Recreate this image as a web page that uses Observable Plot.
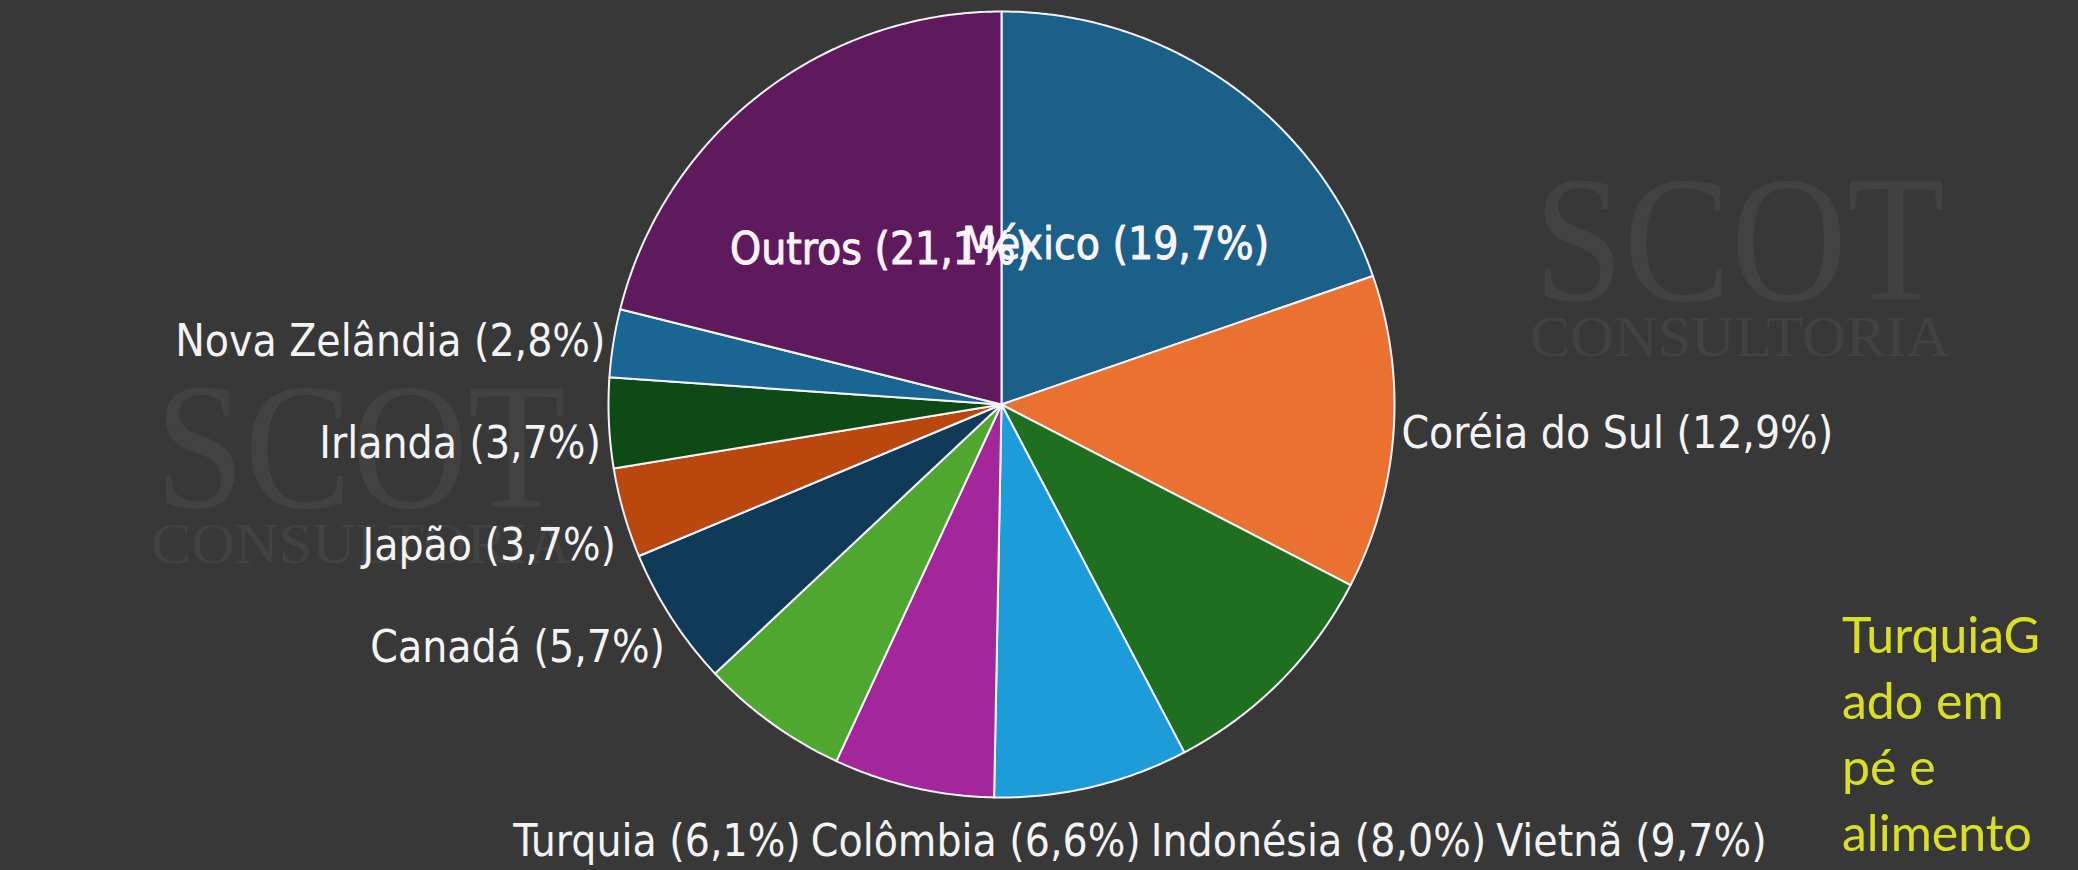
<!DOCTYPE html>
<html>
<head>
<meta charset="utf-8">
<script src="https://cdn.jsdelivr.net/npm/d3@7"></script>
<script src="https://cdn.jsdelivr.net/npm/@observablehq/plot@0.6"></script>
<style>
  html, body { margin: 0; padding: 0; background: #383838; overflow: hidden; }
  #wrap { position: relative; width: 2078px; height: 870px; }
  #wm, #chart, #note { position: absolute; left: 0; top: 0; }
</style>
</head>
<body>
<div id="wrap">
  <svg id="wm" width="2078" height="870"></svg>
  <div id="chart"></div>
  <svg id="note" width="2078" height="870"></svg>
</div>
<script>
// ---- data ----
const countries = ["México", "Coréia do Sul", "Vietnã", "Indonésia", "Colômbia", "Turquia",
                   "Canadá", "Japão", "Irlanda", "Nova Zelândia", "Outros"];
const shares = [19.7, 12.9, 9.7, 8.0, 6.6, 6.1, 5.7, 3.7, 3.7, 2.8, 21.1];
const sliceColors = ["#1b6088", "#ea7130", "#1f6f21", "#1c9dda", "#a3279b", "#4fa72f",
                     "#0f3a58", "#b9470e", "#0d4a15", "#1a6692", "#5f1a5e"];
const noteLines = ["TurquiaG", "ado em", "pé e", "alimento"];
const watermarkWords = ["SCOT", "CONSULTORIA"];

// ---- layout ----
const W = 2078, H = 870;
const cx = 1001, cy = 404, R = 393;
const labelFont = '"DejaVu Sans Condensed", "DejaVu Sans"';
const labelSize = 44;
const insideMin = 15, insideRadius = 0.5;
const labelGap = 8, bottomGap = -50, colSpacing = 102, rowGap = 10;
const bottomFrom = 120, bottomTo = 230;

const rows = countries.map((name, i) => ({name, share: shares[i]}));
const arcs = d3.pie().sort(null).value(d => d.share).startAngle(0).endAngle(2 * Math.PI)(rows);

// slice outlines (unit circle) from pie angles
const slicePts = arcs.flatMap(a => {
  const name = a.data.name;
  const n = Math.max(2, Math.ceil((a.endAngle - a.startAngle) / (Math.PI / 360)));
  const pts = [{name, x: 0, y: 0}];
  for (let i = 0; i <= n; i++) {
    const t = a.startAngle + (a.endAngle - a.startAngle) * i / n;
    pts.push({name, x: Math.sin(t), y: Math.cos(t)});
  }
  pts.push({name, x: 0, y: 0});
  return pts;
});

// label layout
const ctx = document.createElement("canvas").getContext("2d");
ctx.font = `${labelSize}px ${labelFont}`;
const fmt = v => v.toFixed(1).replace(".", ",");
const labels = arcs.map(a => {
  const mid = (a.startAngle + a.endAngle) / 2;
  const text = `${a.data.name} (${fmt(a.data.share)}%)`;
  const width = ctx.measureText(text).width;
  if (a.data.share >= insideMin) {
    return {text, width, inside: true, anchor: "middle",
            x: cx + R * insideRadius * Math.sin(mid), y: cy - R * insideRadius * Math.cos(mid)};
  }
  const deg = mid * 180 / Math.PI;
  const side = (deg > bottomFrom && deg < bottomTo) ? "bottom" : (Math.sin(mid) < 0 ? "left" : "right");
  const r = R + (side === "bottom" ? bottomGap : labelGap);
  return {text, width, inside: false, side,
          anchor: side === "left" ? "end" : side === "right" ? "start" : "middle",
          x: cx + r * Math.sin(mid), y: cy - r * Math.cos(mid)};
});
for (const side of ["left", "right"]) {
  const col = labels.filter(d => d.side === side).sort((a, b) => a.y - b.y);
  for (let i = 1; i < col.length; i++) col[i].y = Math.max(col[i].y, col[i - 1].y + colSpacing);
}
{
  const row = labels.filter(d => d.side === "bottom").sort((a, b) => a.x - b.x);
  let end = null;
  for (const d of row) {
    const start = end === null ? d.x - d.width : end + rowGap;
    d.x = start + d.width / 2;
    end = start + d.width;
    d.y = cy + R + labelSize;
  }
}
for (const d of labels) { d.dx = (d.x - cx) / R; d.dy = (cy - d.y) / R; }

const textOpts = {x: "dx", y: "dy", text: "text", fontSize: labelSize, fontFamily: labelFont, fill: "#f3f3f3"};

const chart = Plot.plot({
  width: W, height: H, margin: 0,
  x: {domain: [-cx / R, (W - cx) / R], axis: null},
  y: {domain: [-(H - cy) / R, cy / R], axis: null},
  color: {domain: countries, range: sliceColors},
  style: {background: "transparent", overflow: "visible"},
  marks: [
    Plot.line(slicePts, {x: "x", y: "y", z: "name", fill: "name", stroke: "#f6f2fa",
                         strokeWidth: 2, strokeLinejoin: "round", curve: "linear"}),
    Plot.text(labels.filter(d => d.inside), {...textOpts, textAnchor: "middle", fill: "#fbf4fb",
                         stroke: "#fbf4fb", strokeWidth: 0.9}),
    Plot.text(labels.filter(d => !d.inside && d.anchor === "end"), {...textOpts, textAnchor: "end"}),
    Plot.text(labels.filter(d => !d.inside && d.anchor === "start"), {...textOpts, textAnchor: "start"}),
    Plot.text(labels.filter(d => !d.inside && d.anchor === "middle"), {...textOpts, textAnchor: "middle"})
  ]
});
document.getElementById("chart").appendChild(chart);

// watermark (decorative background logo text)
const wm = d3.select("#wm");
const wmSpots = [{x: 155, y: 507}, {x: 1534, y: 300}];
for (const s of wmSpots) {
  wm.append("text").attr("x", s.x).attr("y", s.y).text(watermarkWords[0])
    .attr("font-family", "Liberation Serif").attr("font-size", 180).attr("fill", "#424242")
    .attr("textLength", 411).attr("lengthAdjust", "spacingAndGlyphs");
  wm.append("text").attr("x", s.x - 4).attr("y", s.y + 56).text(watermarkWords[1])
    .attr("font-family", "Liberation Serif").attr("font-size", 58).attr("fill", "#424242")
    .attr("textLength", 420).attr("lengthAdjust", "spacingAndGlyphs");
}

// yellow note at right
const note = d3.select("#note").append("text")
  .attr("font-family", "Lato").attr("font-size", 50).attr("fill", "#d8e021");
noteLines.forEach((t, i) => note.append("tspan").attr("x", 1842).attr("y", 653 + i * 66).text(t));
</script>
</body>
</html>
